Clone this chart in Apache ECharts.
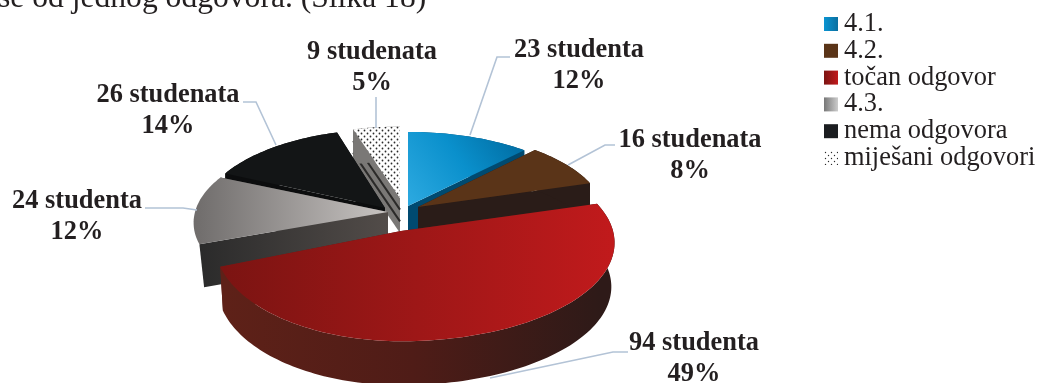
<!DOCTYPE html>
<html><head><meta charset="utf-8">
<style>html,body{margin:0;padding:0;background:#fff;overflow:hidden}#c{width:1040px;height:383px}</style>
<script src="https://cdn.jsdelivr.net/npm/echarts@6/dist/echarts.min.js"></script>
</head><body><div id="c"></div>
<script>
// ---- data ----
const categories = ['4.1.', '4.2.', 'točan odgovor', '4.3.', 'nema odgovora', 'miješani odgovori'];
const students = [23, 16, 94, 24, 26, 9];
const percentLabels = ['12%', '8%', '49%', '12%', '14%', '5%'];
const countLabels = ['23 studenta', '16 studenata', '94 studenta', '24 studenta', '26 studenata', '9 studenata'];

// ---- presentation ----
const FONT = '"Liberation Serif","Times New Roman",serif';
const INK = '#231f20', LEADER = '#b3c3d6';
function dotPattern(size, r) {
  const c = document.createElement('canvas');
  c.width = size; c.height = size;
  const g = c.getContext('2d');
  g.fillStyle = '#fff'; g.fillRect(0, 0, size, size);
  g.fillStyle = '#2b2b2b';
  g.beginPath(); g.arc(size / 4, size / 4, r, 0, 7); g.fill();
  g.beginPath(); g.arc(size * 3 / 4, size * 3 / 4, r, 0, 7); g.fill();
  return { image: c, repeat: 'repeat' };
}
const dots = dotPattern(6, 0.9);
const stops = list => list.map((color, i) => ({ offset: i / (list.length - 1), color }));
const lin = (x, y, x2, y2, ...cs) => ({ type: 'linear', global: true, x, y, x2, y2, colorStops: stops(cs) });
const key = (x2, y2, ...cs) => ({ type: 'linear', global: false, x: 0, y: 0, x2, y2, colorStops: stops(cs) });
// one entry per category: where the exploded slice sits and how it is shaded
const looks = [
  { ax: 408, ay: 206, R: 185, tR: 83, d: 40, top: lin(420, 215, 525, 140, '#2ba8df', '#0a90cc', '#006a9f'), wall: '#004a70', key: key(1, 0, '#0a94d2', '#0a6fa0') },
  { ax: 418, ay: 207, R: 186, tR: 85, d: 40, top: '#5a3418', wall: '#2a1c18', key: '#5a3418' },
  { ax: 401, ay: 231, R: 212, Rleft: 185, tR: 97, d: 44, shrink: 0.985, top: lin(220, 0, 615, 0, '#7b1412', '#c11a1c'), wall: lin(225, 0, 600, 0, '#5e2118', '#4f1c17', '#2e1a18'), key: key(1, 0, '#7b1412', '#c11a1c') },
  { ax: 388, ay: 212, R: 193, tR: 88, d: 43, shrink: 0.975, noArc: true, top: lin(194, 0, 388, 0, '#6f6c6b', '#c8c4c2'), wall: lin(197, 0, 388, 0, '#2a2a2a', '#524c49'), key: key(1, 0, '#777', '#ccc') },
  { ax: 385, ay: 208, R: 184, tR: 88, d: 40, top: '#131516', wall: '#0c0d0e', key: '#1b1d20' },
  { ax: 400, ay: 198, R: 180, tR: 80, d: 35, top: dots, wall: '#7a7876', stripes: true, key: dotPattern(6, 0.7) }
];
const K = 0.12; // perspective strength
// label centre and leader polyline per category
const notes = [
  { x: 579, y: 50, line: [[470, 135], [497, 57], [510, 57]] },
  { x: 690, y: 140, line: [[568, 165], [605, 145], [615, 145]] },
  { x: 694, y: 343, line: [[490, 378], [613, 352], [628, 352]] },
  { x: 77, y: 201, line: [[197, 210], [183, 208], [145, 208]] },
  { x: 168, y: 95, line: [[276, 145], [256, 102], [243, 102]] },
  { x: 372, y: 52, line: [[376, 128], [376, 97]] }
];
const drawOrder = [5, 0, 4, 1, 3, 2];
const total = students.reduce((a, b) => a + b, 0);

function renderSlice(i) {
  return function (params, api) {
    const L = looks[i];
    const before = students.slice(0, i).reduce((a, b) => a + b, 0);
    const a0 = before / total * Math.PI * 2;
    const a1 = a0 + api.value(0) / total * Math.PI * 2;
    const P = (a, dy) => {
      const u = Math.sin(a), v = -Math.cos(a), s = 1 / (1 - K * v);
      const R = u < 0 && L.Rleft ? L.Rleft : L.R;
      return [L.ax + R * u * s, L.ay + L.tR * v * s + (dy || 0)];
    };
    const arc = [], steps = Math.max(8, Math.round((a1 - a0) * 40));
    for (let n = 0; n <= steps; n++) arc.push(a0 + (a1 - a0) * n / steps);
    const poly = (points, fill) => ({ type: 'polygon', shape: { points }, style: { fill } });
    const kids = [];
    const shrink = L.shrink || 1;
    const low = a => { const p = P(a, L.d); return [L.ax + (p[0] - L.ax) * shrink, p[1]]; };
    const apexLow = [L.ax, L.ay + L.d], apex = [L.ax, L.ay];
    kids.push(poly([apex, P(a0), low(a0), apexLow], L.wall));
    kids.push(poly([apex, P(a1), low(a1), apexLow], L.wall));
    if (L.stripes) {
      [1 / 3, 2 / 3].forEach(f => kids.push({
        type: 'polyline',
        shape: { points: [[L.ax, L.ay + L.d * f], P(a0, L.d * f)] },
        style: { stroke: '#2b2a29', lineWidth: 2, fill: null }
      }));
    }
    if (!L.noArc) kids.push(poly(arc.map(a => P(a)).concat(arc.slice().reverse().map(low)), L.wall));
    kids.push(poly([apex].concat(arc.map(a => P(a))), L.top));
    return { type: 'group', children: kids };
  };
}

function renderNotes(params, api) {
  const n = notes[api.value(0)];
  const font = 'bold 26.4px ' + FONT;
  return {
    type: 'group',
    children: [
      { type: 'polyline', shape: { points: n.line }, style: { stroke: LEADER, lineWidth: 1.6, fill: null } },
      { type: 'text', style: { x: n.x, y: n.y, text: countLabels[api.value(0)], fill: INK, font, align: 'center', verticalAlign: 'middle' } },
      { type: 'text', style: { x: n.x, y: n.y + 31, text: percentLabels[api.value(0)], fill: INK, font, align: 'center', verticalAlign: 'middle' } }
    ]
  };
}

const chart = echarts.init(document.getElementById('c'), null, { renderer: 'canvas' });
const sliceSeries = drawOrder.map((i, order) => ({
  type: 'custom', name: categories[i], coordinateSystem: 'none', z: 2 + order,
  silent: true, animation: false, clip: false,
  data: [[students[i]]], renderItem: renderSlice(i),
  itemStyle: { color: looks[i].key }
}));
chart.setOption({
  animation: false,
  backgroundColor: '#fff',
  legend: {
    orient: 'vertical', left: 824, top: 11, icon: 'rect', itemWidth: 14, itemHeight: 14, itemGap: 0.8,
    itemStyle: { borderWidth: 0 }, selectedMode: false, padding: 0,
    textStyle: { fontFamily: FONT, fontSize: 26.4, color: INK, lineHeight: 24, padding: [0, 0, 0, 1] },
    data: categories.map((name, i) => ({ name, itemStyle: { color: looks[i].key, borderWidth: 0 } }))
  },
  graphic: [{ type: 'text', silent: true, x: -2, y: -17, style: { text: 'se od jednog odgovora. (Slika 18)', font: '31.6px ' + FONT, fill: INK } }],
  series: sliceSeries.concat([{
    type: 'custom', name: 'labels', coordinateSystem: 'none', z: 20, silent: true, animation: false,
    data: categories.map((c, i) => [i]), renderItem: renderNotes
  }])
});
</script></body></html>
